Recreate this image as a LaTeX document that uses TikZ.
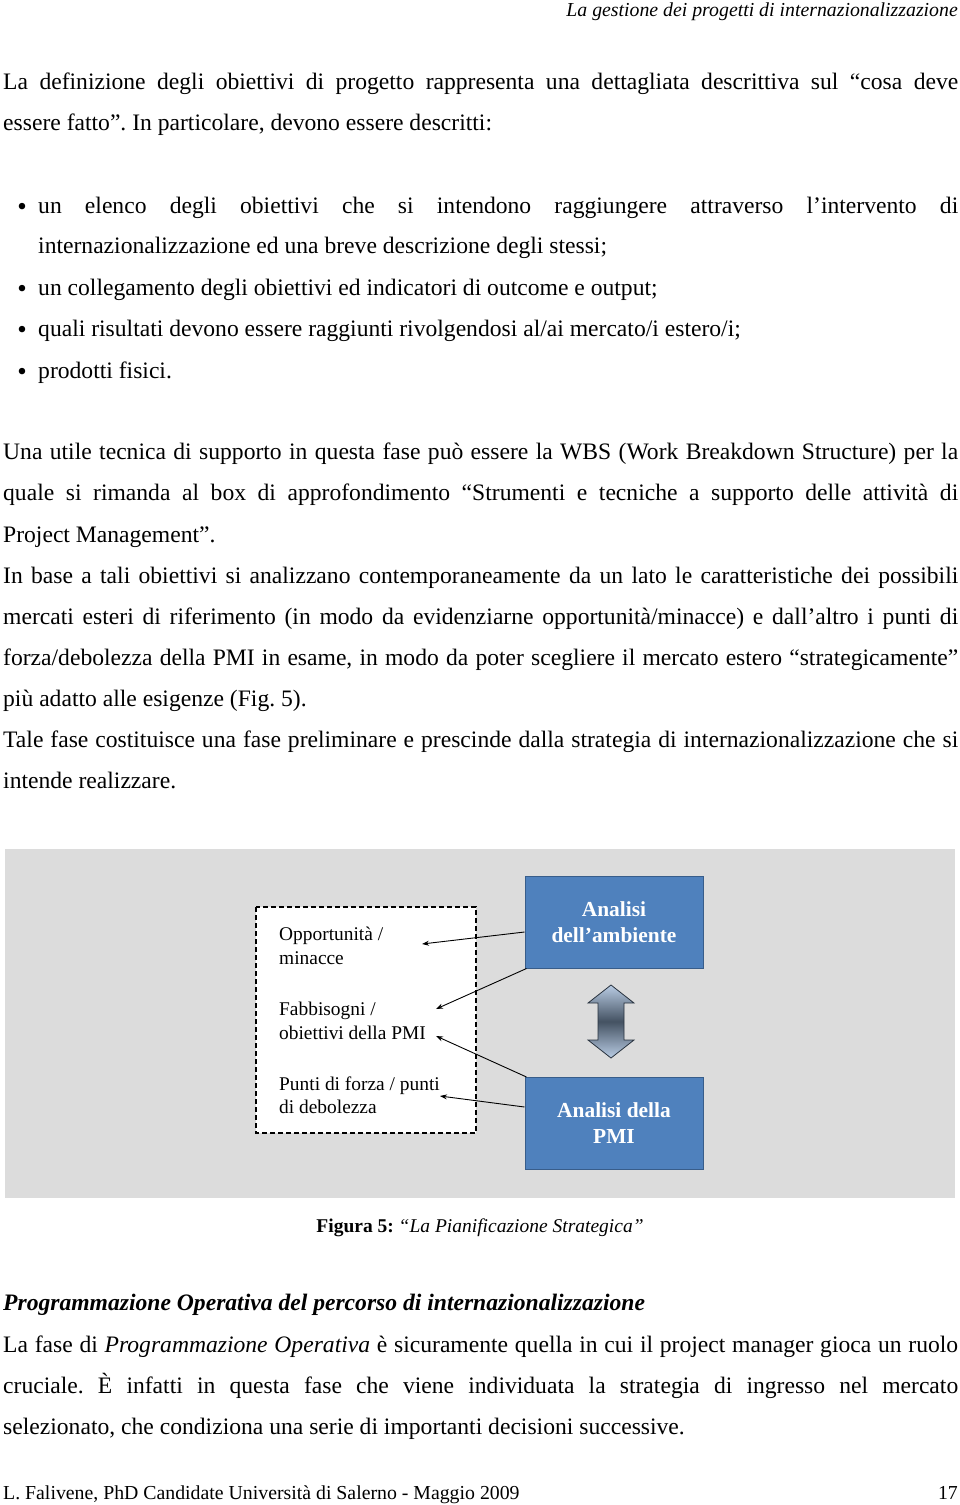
\documentclass[tikz,border=0pt]{standalone}
\usepackage{fontspec}
\setmainfont{Liberation Serif}
\usetikzlibrary{arrows.meta}
\frenchspacing
\definecolor{figgray}{RGB}{220,220,220}
\definecolor{boxblue}{RGB}{79,129,189}
\definecolor{boxedge}{RGB}{56,93,138}
\definecolor{arrlight}{RGB}{185,204,228}
\definecolor{arrdark}{RGB}{68,82,98}
\definecolor{arredge}{RGB}{40,50,62}
\newcommand\jline[2]{\makebox[#1][s]{#2}}
\begin{document}
\begin{tikzpicture}[x=1pt,y=-1pt,
  body/.style={anchor=base west, inner sep=0pt, font=\fontsize{23.6}{28}\selectfont},
  smalltext/.style={anchor=base west, inner sep=0pt, font=\fontsize{19.8}{23.5}\selectfont},
  bul/.style={anchor=base, inner sep=0pt, font=\fontsize{27}{30}\selectfont},
  figtext/.style={anchor=west, inner sep=0pt, align=left, font=\fontsize{19.4}{23.5}\selectfont},
  bluebox/.style={draw=boxedge, line width=1pt, fill=boxblue, text=white, minimum width=178pt, minimum height=92pt, align=center, font=\fontsize{21.4}{26}\selectfont\bfseries, inner sep=0pt},
  conn/.style={line width=0.9pt, -{Stealth[length=7pt,width=5pt]}}
]
\useasboundingbox[fill=white] (0,0) rectangle (960,1505);
% header
\node[smalltext, anchor=base east, font=\fontsize{19.8}{23.5}\selectfont\itshape] (hdr) at (958,16) {La gestione dei progetti di internazionalizzazione};
% paragraph 1
\node[body] (p1a) at (3,89) {\jline{955pt}{La definizione degli obiettivi di progetto rappresenta una dettagliata descrittiva sul “cosa deve}};
\node[body] (p1b) at (3,130) {essere fatto”. In particolare, devono essere descritti:};
% bullets
\node[bul] (b1dot) at (22,215) {•};
\node[body] (b1a) at (38,213) {\jline{920pt}{un elenco degli obiettivi che si intendono raggiungere attraverso l’intervento di}};
\node[body] (b1b) at (38,253) {internazionalizzazione ed una breve descrizione degli stessi;};
\node[bul] (b2dot) at (22,297) {•};
\node[body] (b2) at (38,295) {un collegamento degli obiettivi ed indicatori di outcome e output;};
\node[bul] (b3dot) at (22,338) {•};
\node[body] (b3) at (38,336) {quali risultati devono essere raggiunti rivolgendosi al/ai mercato/i estero/i;};
\node[bul] (b4dot) at (22,380) {•};
\node[body] (b4) at (38,378) {prodotti fisici.};
% paragraph 2
\node[body] (p2a) at (3,459) {\jline{955pt}{Una utile tecnica di supporto in questa fase può essere la WBS (Work Breakdown Structure) per la}};
\node[body] (p2b) at (3,500) {\jline{955pt}{quale si rimanda al box di approfondimento “Strumenti e tecniche a supporto delle attività di}};
\node[body] (p2c) at (3,542) {Project Management”.};
% paragraph 3
\node[body] (p3a) at (3,583) {\jline{955pt}{In base a tali obiettivi si analizzano contemporaneamente da un lato le caratteristiche dei possibili}};
\node[body] (p3b) at (3,624) {\jline{955pt}{mercati esteri di riferimento (in modo da evidenziarne opportunità/minacce) e dall’altro i punti di}};
\node[body] (p3c) at (3,665) {\jline{955pt}{forza/debolezza della PMI in esame, in modo da poter scegliere il mercato estero “strategicamente”}};
\node[body] (p3d) at (3,706) {più adatto alle esigenze (Fig. 5).};
% paragraph 4
\node[body] (p4a) at (3,747) {\jline{955pt}{Tale fase costituisce una fase preliminare e prescinde dalla strategia di internazionalizzazione che si}};
\node[body] (p4b) at (3,788) {intende realizzare.};
% figure
\fill[figgray] (5,849) rectangle (955,1198);
\draw[line width=1.3pt, fill=white, dash pattern=on 5pt off 3pt] (256,907) rectangle (476,1133);
\node[figtext] (opp) at (279,946) {Opportunità /\\minacce};
\node[figtext] (fab) at (279,1021) {Fabbisogni /\\obiettivi della PMI};
\node[figtext] (pun) at (279,1095) {Punti di forza / punti\\di debolezza};
\node[bluebox] (amb) at (614,922) {Analisi\\dell’ambiente};
\node[bluebox] (pmi) at (614,1123.5) {Analisi della\\PMI};
\shadedraw[draw=arredge, line width=0.8pt, top color=arrlight, bottom color=arrlight, middle color=arrdark]
  (611,985) -- (634,1003) -- (624,1003) -- (624,1040) -- (634,1040) -- (611,1058)
  -- (588,1040) -- (598,1040) -- (598,1003) -- (588,1003) -- cycle;
\coordinate (t1) at (422,944);
\coordinate (t2) at (436,1009);
\coordinate (t3) at (436,1036);
\coordinate (t4) at (440,1096);
\draw[conn] ([yshift=-10pt]amb.west) -- (t1);
\draw[conn] ([xshift=2pt]amb.south west) -- (t2);
\draw[conn] ([xshift=2pt]pmi.north west) -- (t3);
\draw[conn] ([yshift=16.5pt]pmi.west) -- (t4);
% caption
\node[smalltext, anchor=base, font=\fontsize{19.5}{23.5}\selectfont] (cap) at (480,1232) {\textbf{Figura 5:} \textit{“La Pianificazione Strategica”}};
% section
\node[body, font=\fontsize{23.6}{28}\selectfont\bfseries\itshape] (sec) at (3,1310) {Programmazione Operativa del percorso di internazionalizzazione};
\node[body] (p5a) at (3,1352) {\jline{955pt}{La fase di \textit{Programmazione Operativa} è sicuramente quella in cui il project manager gioca un ruolo}};
\node[body] (p5b) at (3,1393) {\jline{955pt}{cruciale. È infatti in questa fase che viene individuata la strategia di ingresso nel mercato}};
\node[body] (p5c) at (3,1434) {selezionato, che condiziona una serie di importanti decisioni successive.};
% footer
\node[smalltext] (ftr) at (3,1499) {L. Falivene, PhD Candidate Università di Salerno - Maggio 2009};
\node[smalltext, anchor=base east] (pg) at (958,1499) {17};
\end{tikzpicture}
\end{document}
